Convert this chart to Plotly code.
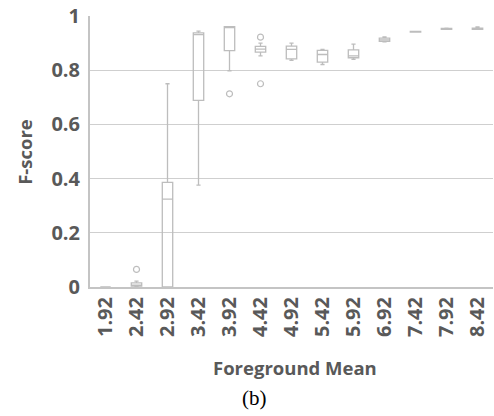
import plotly.graph_objects as go

categories = ["1.92", "2.42", "2.92", "3.42", "3.92", "4.42", "4.92",
              "5.42", "5.92", "6.92", "7.42", "7.92", "8.42"]
q1 = [0, 0.003, 0, 0.689, 0.872, 0.867, 0.842, 0.830, 0.846, 0.906, 0.941, 0.951, 0.951]
median = [0, 0.005, 0.324, 0.931, 0.957, 0.878, 0.877, 0.858, 0.853, 0.912, 0.942, 0.952, 0.953]
q3 = [0, 0.015, 0.386, 0.938, 0.961, 0.888, 0.889, 0.873, 0.875, 0.918, 0.943, 0.954, 0.955]
lowerfence = [0, 0, 0, 0.376, 0.798, 0.853, 0.836, 0.821, 0.840, 0.905, 0.941, 0.951, 0.951]
upperfence = [0, 0.022, 0.750, 0.944, 0.961, 0.900, 0.900, 0.877, 0.896, 0.923, 0.943, 0.955, 0.960]
outlier_x = ["2.42", "3.92", "4.42", "4.42"]
outlier_y = [0.065, 0.713, 0.922, 0.750]
y_ticks = [0, 0.2, 0.4, 0.6, 0.8, 1]
y_ticklabels = ["0", "0.2", "0.4", "0.6", "0.8", "1"]

box_color = "#bdbdbd"
text_color = "#595959"

fig = go.Figure()
fig.add_trace(go.Box(
    x=categories, q1=q1, median=median, q3=q3,
    lowerfence=lowerfence, upperfence=upperfence,
    line=dict(color=box_color, width=1.3),
    fillcolor="rgba(255,255,255,0)",
    whiskerwidth=0.4,
    boxpoints=False,
    showlegend=False,
))
fig.add_trace(go.Scatter(
    x=outlier_x, y=outlier_y, mode="markers",
    marker=dict(symbol="circle-open", size=6, color=box_color, line=dict(width=1.2)),
    showlegend=False,
))

font_b = dict(family="Open Sans", size=20, color=text_color, weight="bold")

fig.update_layout(
    width=494, height=416,
    margin=dict(l=90, r=1, t=15.5, b=129),
    paper_bgcolor="white", plot_bgcolor="white",
    boxgap=0.52,
    xaxis=dict(
        type="category", categoryorder="array", categoryarray=categories,
        tickangle=-90, tickfont=font_b, showgrid=False,
        showline=True, linecolor="#c4c4c4", linewidth=2,
        ticks="", ticklen=0, automargin=False,
    ),
    yaxis=dict(
        range=[0, 1], tickvals=y_ticks, ticktext=y_ticklabels,
        tickfont=font_b, showgrid=True, gridcolor="#cfcfcf", gridwidth=1.3,
        showline=True, linecolor="#c4c4c4", linewidth=2,
        zeroline=False, ticks="outside", ticklen=4, tickcolor="rgba(0,0,0,0)",
        automargin=False,
    ),
    annotations=[
        dict(text="Foreground Mean", xref="paper", yref="paper", x=0.509, y=-0.298,
             showarrow=False, font=dict(family="Open Sans", size=18.5, color=text_color, weight="bold"),
             xanchor="center", yanchor="middle"),
        dict(text="(b)", xref="paper", yref="paper", x=0.409, y=-0.409,
             showarrow=False, font=dict(family="Liberation Serif", size=21, color="black"),
             xanchor="center", yanchor="middle"),
        dict(text="F-score", xref="paper", yref="paper", x=-0.163, y=0.5,
             showarrow=False, textangle=-90,
             font=dict(family="Open Sans", size=18.5, color=text_color, weight="bold"),
             xanchor="center", yanchor="middle"),
    ],
)

fig.write_html("out.html")
